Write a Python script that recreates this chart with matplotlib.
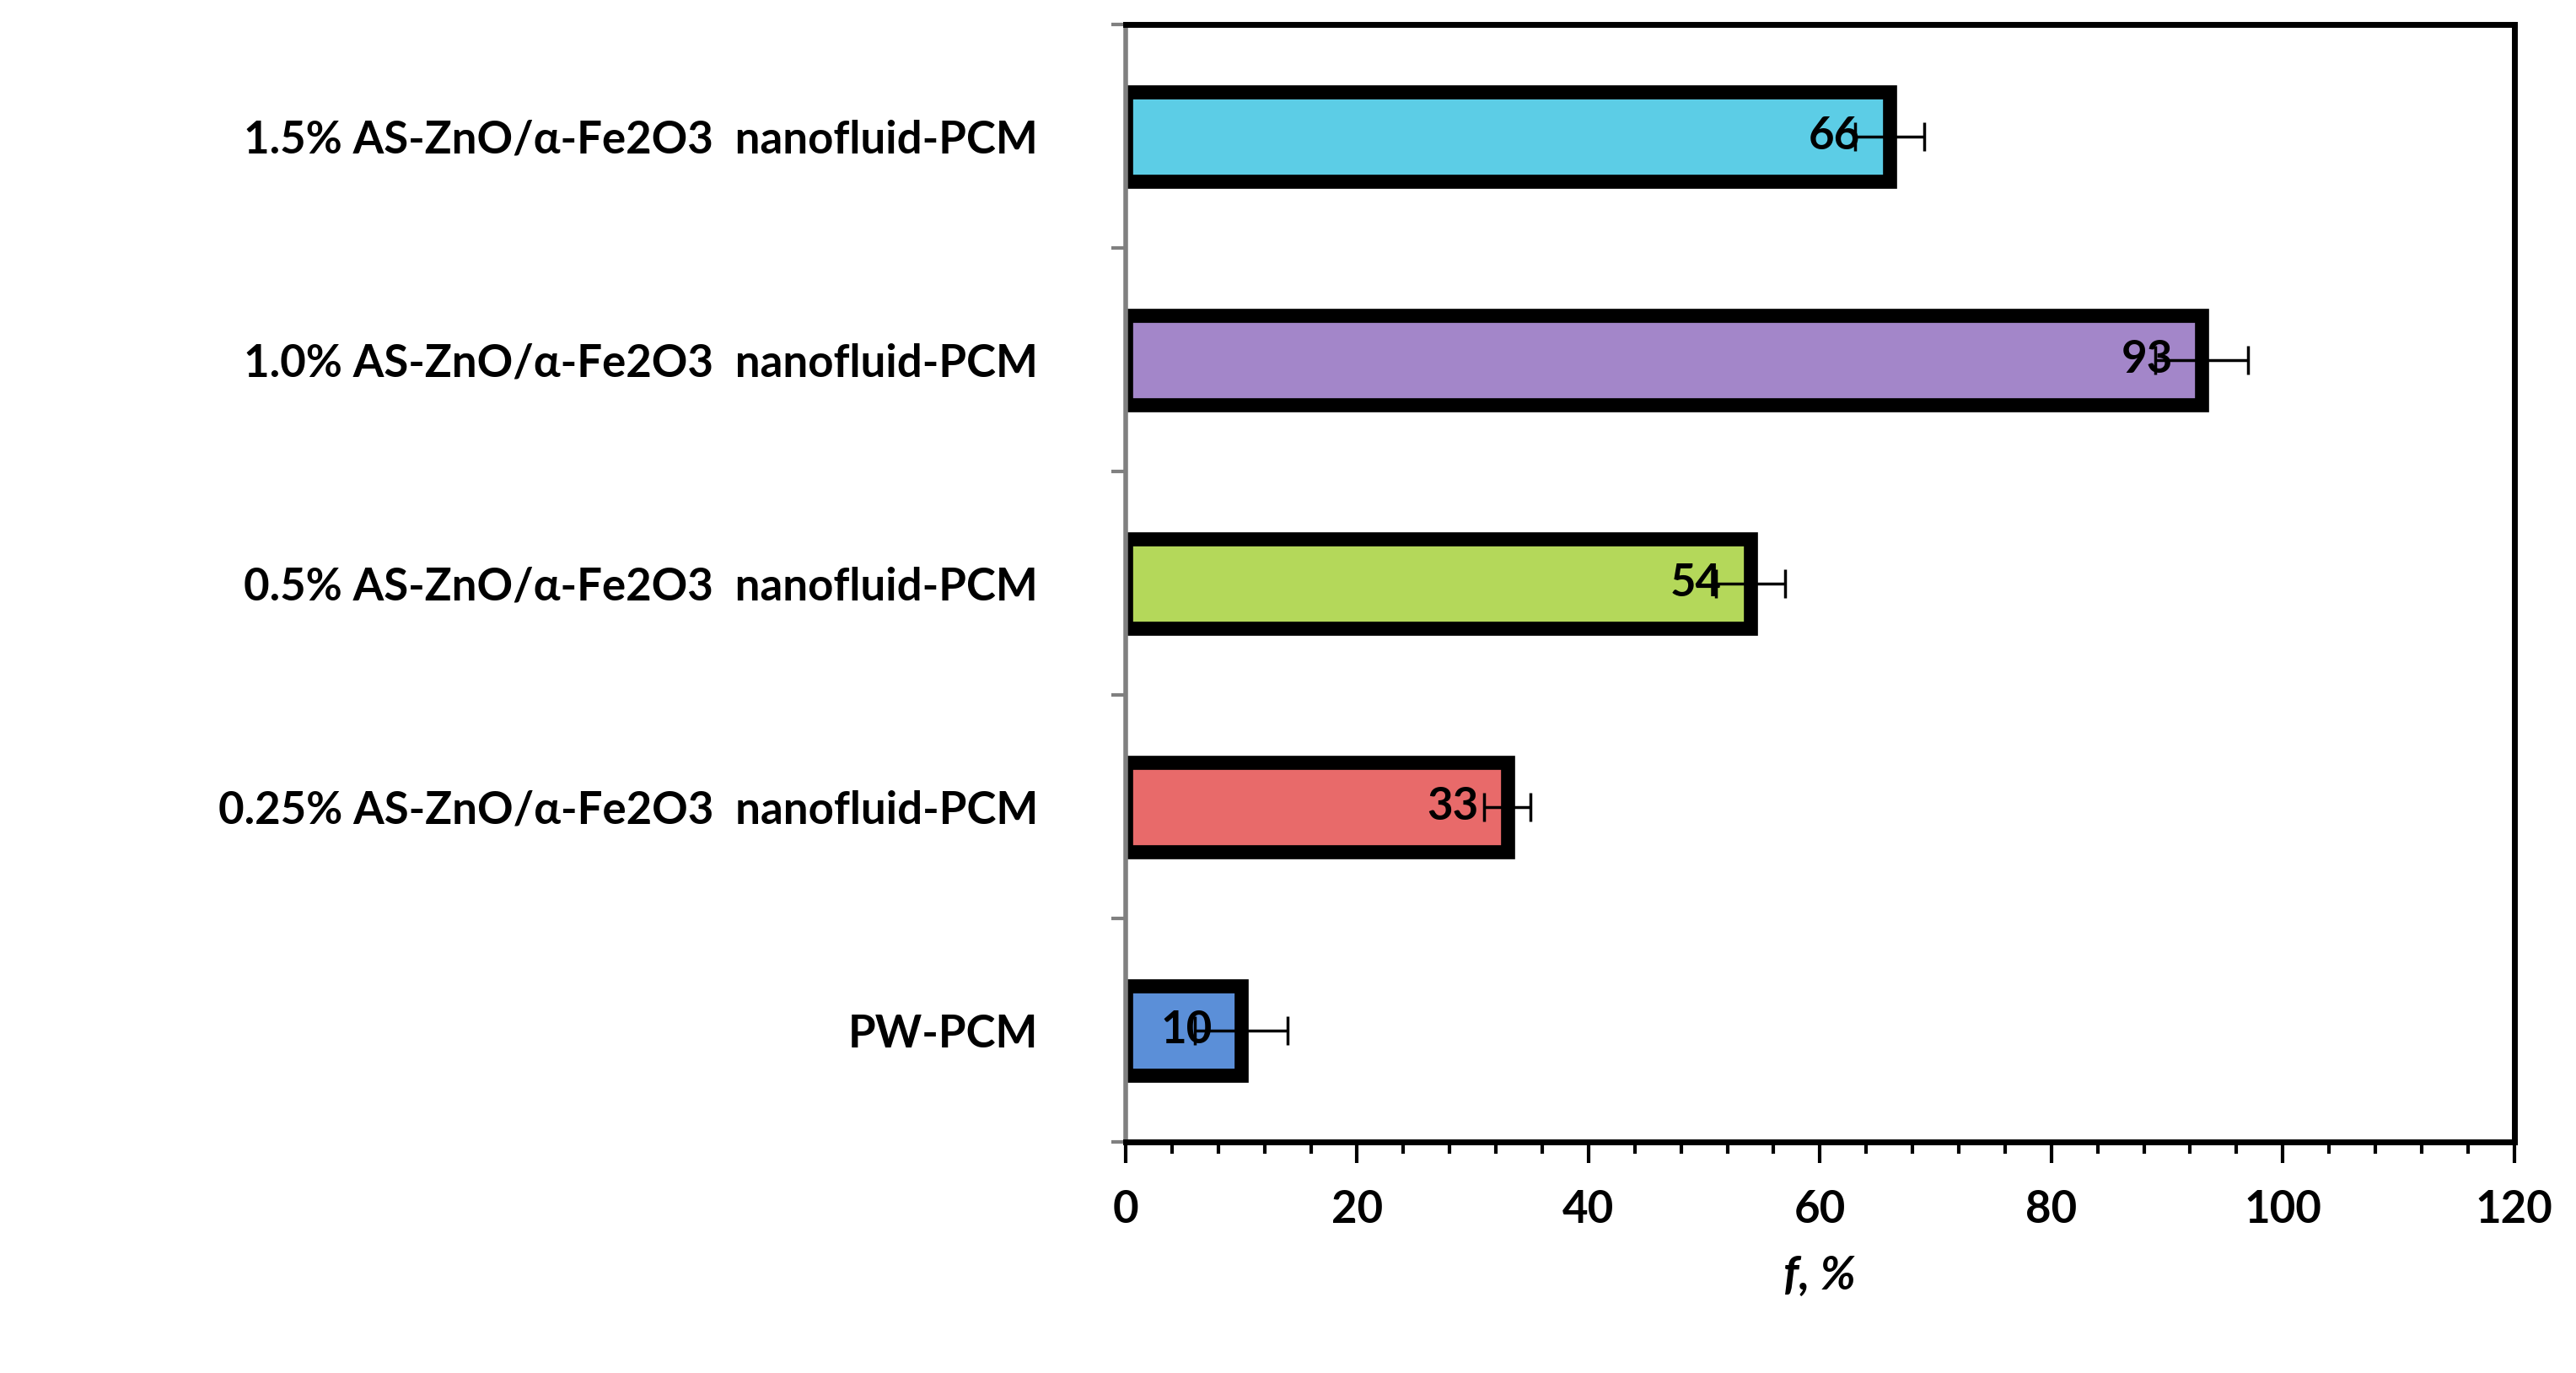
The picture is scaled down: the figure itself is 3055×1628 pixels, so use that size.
import numpy as np
import matplotlib.pyplot as plt
from matplotlib.ticker import MultipleLocator

labels = ['PW-PCM',
          '0.25% AS-ZnO/α-Fe2O3  nanofluid-PCM',
          '0.5% AS-ZnO/α-Fe2O3  nanofluid-PCM',
          '1.0% AS-ZnO/α-Fe2O3  nanofluid-PCM',
          '1.5% AS-ZnO/α-Fe2O3  nanofluid-PCM']
values = [10, 33, 54, 93, 66]
errors = [4, 2, 3, 4, 3]
colors = ['#5b8fd8', '#e86a6a', '#b4d85a', '#a386c9', '#5ccde6']

plt.rcParams['font.family'] = ['Lato', 'DejaVu Sans']
plt.rcParams['font.weight'] = 'bold'

fig = plt.figure(figsize=(30.55, 16.28), dpi=100)
ax = fig.add_axes([0.437, 0.168, 0.539, 0.814])

y = np.arange(len(labels))
ax.barh(y, values, height=0.4, color=colors, edgecolor='black', linewidth=12, zorder=2)
ax.errorbar(values, y, xerr=errors, fmt='none', ecolor='black', elinewidth=2.5,
            capsize=12, capthick=2.5, zorder=3)
for yi, v in zip(y, values):
    ax.text(v - 2.5, yi, str(v), ha='right', va='center', fontsize=38,
            fontweight='bold', zorder=4)

ax.set_xlim(0, 120)
ax.set_ylim(-0.5, len(labels) - 0.5)
ax.xaxis.set_major_locator(MultipleLocator(20))
ax.xaxis.set_minor_locator(MultipleLocator(4))
ax.tick_params(axis='x', which='major', direction='out', length=18, width=3,
               labelsize=38, pad=22)
ax.tick_params(axis='x', which='minor', direction='out', length=10, width=3)

ax.set_yticks(y)
ax.set_yticklabels(labels, fontsize=38, fontweight='bold')
ax.set_yticks(np.arange(-0.5, len(labels)), minor=True)
ax.tick_params(axis='y', which='major', length=0, pad=75)
ax.tick_params(axis='y', which='minor', length=12, width=3, color='#808080')

for s in ['top', 'right', 'bottom']:
    ax.spines[s].set_linewidth(5)
ax.spines['left'].set_linewidth(4)
ax.spines['left'].set_color('#808080')

ax.set_xlabel(r'$\boldsymbol{f}$, %', fontsize=40, fontweight='bold', labelpad=20)
ax.xaxis.label.set_text('f, %')
ax.xaxis.label.set_style('italic')

plt.savefig('out.png', dpi=100)
